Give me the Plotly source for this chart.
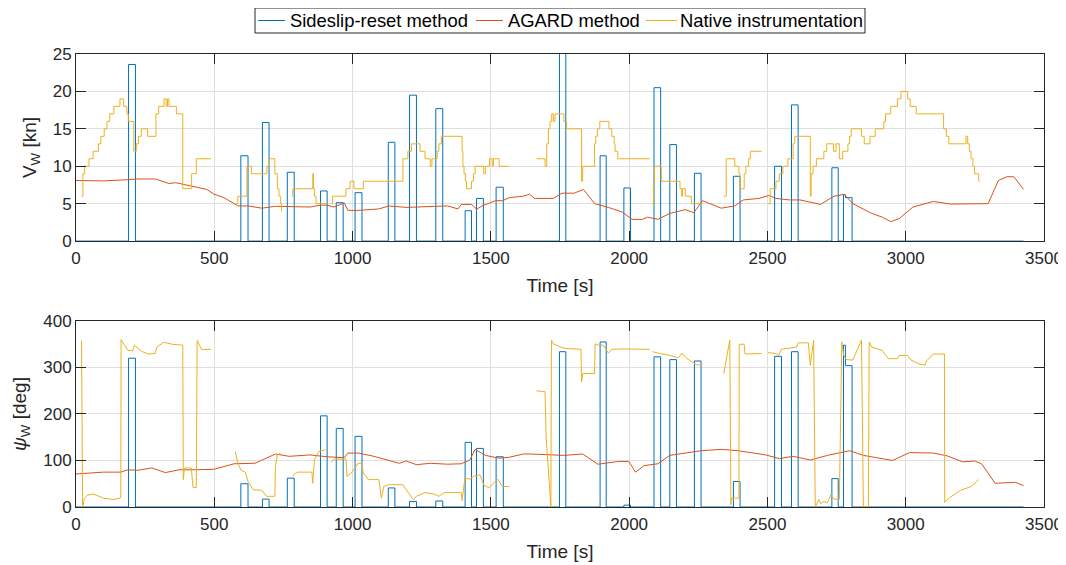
import plotly.graph_objects as go

# ---------------- data ----------------
# Sideslip-reset method: discrete estimates (start time, end time, speed [kn], direction [deg])
bar_start = [190, 596, 674, 764, 884, 941, 1009, 1129, 1206, 1301, 1407, 1448, 1519,
             1748, 1895, 1981, 2090, 2147, 2236, 2377, 2526, 2587, 2733, 2775, 2782]
bar_end = [215, 622, 698, 789, 908, 966, 1034, 1153, 1231, 1326, 1430, 1473, 1545,
           1771, 1917, 2005, 2114, 2171, 2260, 2401, 2551, 2611, 2756, 2782, 2806]
bar_speed = [23.6, 11.4, 15.85, 9.2, 6.7, 5.13, 6.47, 13.2, 19.5, 17.7, 4.06, 5.7, 7.2,
             27.0, 11.4, 7.1, 20.5, 12.9, 9.06, 8.66, 10.0, 18.2, 9.8, 6.2, 5.8]
bar_dir = [320, 50, 17, 62, 196, 169, 152, 41, 12, 13, 139, 126, 108,
           334, 355, 4, 323, 317, 314, 55, 324, 334, 61, 348, 304]
sideslip_t_end = 3426

# AGARD method: wind speed
agard_t_speed = [0, 100, 187, 224, 286, 336, 361, 398, 435, 473, 498, 535, 572, 585, 622, 672,
                 721, 784, 846, 883, 908, 933, 970, 983, 1020, 1095, 1132, 1194, 1281, 1343,
                 1381, 1393, 1430, 1449, 1468, 1517, 1542, 1567, 1617, 1640, 1658, 1726, 1757,
                 1801, 1835, 1875, 1925, 1974, 2011, 2048, 2067, 2104, 2147, 2203, 2234, 2265,
                 2333, 2382, 2413, 2469, 2506, 2531, 2580, 2618, 2692, 2741, 2778, 2809, 2877,
                 2915, 2946, 2976, 3026, 3100, 3162, 3249, 3298, 3335, 3366, 3391, 3426]
agard_speed = [8.1, 8.04, 8.2, 8.3, 8.3, 7.7, 7.8, 7.5, 7.3, 6.9, 6.3, 5.8, 5.0, 4.7, 4.7, 4.4,
               4.65, 4.55, 4.55, 4.8, 4.8, 4.55, 5.1, 4.1, 4.1, 4.3, 4.7, 4.5, 4.6, 4.7,
               4.3, 4.9, 4.9, 4.25, 4.7, 5.4, 5.4, 5.8, 6.0, 6.25, 5.7, 5.7, 6.4,
               6.4, 6.9, 5.0, 4.5, 3.9, 2.9, 2.9, 3.2, 2.9, 3.7, 4.2, 3.8, 5.4,
               4.4, 4.7, 5.5, 5.7, 6.1, 5.7, 5.5, 5.5, 4.9, 6.0, 6.25, 5.0, 3.7,
               3.2, 2.6, 3.0, 4.55, 5.3, 4.95, 4.95, 5.0, 8.1, 8.6, 8.6, 6.9]

# AGARD method: wind direction
agard_t_dir = [0, 100, 162, 187, 224, 274, 323, 373, 423, 498, 572, 647, 721, 771, 846, 908,
               970, 983, 1020, 1070, 1132, 1169, 1194, 1231, 1281, 1343, 1393, 1424, 1443,
               1480, 1530, 1567, 1617, 1640, 1764, 1832, 1887, 1962, 1999, 2023, 2054, 2104,
               2147, 2197, 2259, 2333, 2395, 2494, 2543, 2593, 2655, 2717, 2797, 2847, 2952,
               3014, 3100, 3150, 3206, 3249, 3274, 3298, 3323, 3397, 3426]
agard_dir = [71, 75, 75, 80, 79, 84, 74, 80, 80, 81, 93, 94, 114, 109, 112, 108,
             106, 116, 116, 110, 100, 94, 99, 91, 94, 92, 93, 101, 124,
             111, 105, 107, 114, 114, 111, 114, 92, 98, 98, 75, 89, 93,
             111, 116, 121, 124, 121, 112, 104, 109, 101, 111, 121, 111, 100,
             117, 116, 110, 97, 99, 93, 73, 51, 53, 46]

# Native instrumentation: wind speed (step samples, None = no data)
native_t_speed = [
    20, 25, 31, 47, 62, 81, 90, 102, 112, 122, 137, 159, 172, 184, 189, 209, 218, 226, 236,
    259, 289, 299, 318, 326, 331, 336, 363, 386, 418, 435, 488, None,
    576, 585, 618, 634, 690, 699, 719, 728, 734, 740, 743, 745, None,
    781, 784, 856, 859, 862, 868, 908, None,
    924, 927, 976, 991, 1005, 1039, 1182, 1200, 1213, 1244, 1262, 1281, 1287, 1306, 1312,
    1321, 1396, 1399, 1403, 1408, 1412, 1430, 1437, 1443, 1474, 1480, 1495, 1505, 1509,
    1530, 1567, None,
    1665, 1696, 1702, 1708, 1714, 1720, 1726, 1732, 1764, 1774, 1828, 1832, 1875, 1879,
    1885, 1894, 1927, 1937, 1946, 1949, 1959, 2075, None,
    2083, 2088, 2092, 2116, 2184, 2190, 2193, 2203, 2225, 2265, None,
    2342, 2351, 2382, 2397, 2401, 2416, 2422, 2432, 2438, 2479, None,
    2502, 2510, 2531, 2543, 2556, 2574, 2593, 2599, 2655, 2658, 2665, 2677, 2704, 2714,
    2739, 2748, 2760, 2772, 2791, 2797, 2803, 2840, 2850, 2871, 2890, 2921, 2927, 2946,
    2970, 2983, 3007, 3016, 3038, 3137, 3147, 3156, 3218, 3224, 3230, 3236, 3243, 3249,
    3264, 3267]
native_speed = [
    6, 9, 10, 11, 12, 13, 14, 15, 16, 17, 18, 19, 18, 17, 16, 12, 13, 14, 15,
    14, 17, 18, 19, 18, 19, 18, 17, 7, 9, 11, 11, None,
    5, 6, 10, 9, 10, 11, 9, 7, 6, 5, 4, 4, None,
    6, 7, 9, 7, 6, 5, 5, None,
    5, 6, 7, 8, 7, 8, 11, 12, 13, 12, 11, 10, 11, 12, 13,
    14, 12, 10, 9, 8, 7, 8, 9, 10, 9, 10, 11, 10, 11,
    10, 10, None,
    11, 10, 13, 15, 16, 17, 16, 17, 16, 15, 8, 10, 13, 14,
    15, 16, 15, 14, 13, 12, 11, 11, None,
    5, 8, 10, 8, 7, 6, 7, 6, 5, 5, None,
    6, 11, 10, 9, 7, 9, 10, 11, 12, 12, None,
    5, 7, 8, 9, 10, 11, 13, 14, 6, 9, 10, 11, 12, 13,
    12, 13, 11, 12, 13, 14, 15, 14, 13, 14, 15, 16, 17, 18,
    19, 20, 19, 18, 17, 15, 14, 13, 14, 13, 12, 11, 10, 9,
    8, 8]

# Native instrumentation: wind direction (None = no data)
native_t_dir = [
    20, 24, 30, 40, 62, 100, 137, 155, 162, 163, 187, 205, 211, 236, 261, 286, 292, 317,
    348, 386, 388, 392, 417, 423, 435, 438, 448, 454, 488, None,
    576, 585, 597, 612, 622, 641, 672, 688, 719, 721, 728, 740, None,
    784, 790, 802, 853, 856, 862, 877, 902, None,
    923, 933, 976, 980, 995, 1020, 1032, 1039, 1057, 1095, 1104, 1113, 1132, 1182, 1194,
    1219, 1231, 1262, 1293, 1312, 1331, 1393, 1396, 1406, 1424, 1437, 1461, 1474, 1493,
    1524, 1542, 1567, None,
    1665, 1689, 1696, 1700, 1715, 1717, 1719, 1726, 1751, 1770, 1826, 1828, 1832, 1875,
    1877, 1887, 1906, 1925, 1937, 1974, 2075, None,
    2085, 2110, 2147, 2178, 2191, 2209, 2228, 2246, 2265, None,
    2342, 2364, 2368, 2370, 2382, 2397, 2398, 2416, 2419, 2444, 2479, None,
    2502, 2531, 2541, 2550, 2605, 2611, 2648, 2655, 2667, 2673, 2686, 2692, 2704, 2717,
    2729, 2741, 2760, 2769, 2776, 2785, 2809, 2834, 2840, 2847, 2865, 2868, 2877, 2915,
    2927, 2939, 2970, 2976, 3007, 3019, 3051, 3069, 3075, 3100, 3140, 3141, 3156, 3199,
    3236, 3264]
native_dir = [
    358, 0, 18, 25, 28, 19, 16, 20, 20, 360, 337, 336, 348, 335, 329, 330, 344, 354,
    350, 348, 59, 84, 84, 42, 42, 358, 344, 339, 339, None,
    119, 94, 79, 75, 55, 37, 36, 23, 23, 87, 112, 116, None,
    66, 71, 75, 75, 51, 101, 119, 123, None,
    96, 103, 103, 66, 73, 94, 94, 73, 59, 59, 19, 44, 48, 48, 37,
    16, 23, 31, 28, 23, 31, 31, 14, 62, 60, 66, 69, 48, 41,
    60, 44, 44, None,
    250, 248, 248, 150, 5, 0, 359, 351, 344, 341, 339, 269, 287, 287,
    351, 348, 348, 331, 339, 340, 339, None,
    334, 330, 326, 321, 331, 319, 312, 305, 307, None,
    287, 359, 5, 19, 19, 19, 350, 350, 329, 329, 330, None,
    332, 330, 326, 339, 344, 353, 353, 305, 359, 0, 16, 7, 12, 9,
    26, 17, 16, 355, 326, 317, 316, 351, 359, 0, 1, 355, 344, 337,
    326, 319, 319, 326, 326, 316, 307, 305, 314, 329, 329, 10, 19, 36,
    44, 59]

# tick labels / legend labels
x_ticks = [0, 500, 1000, 1500, 2000, 2500, 3000, 3500]
speed_ticks = [0, 5, 10, 15, 20, 25]
dir_ticks = [0, 100, 200, 300, 400]
series_names = ["Sideslip-reset method", "AGARD method", "Native instrumentation"]

# ---------------- build ----------------
def bar_path(starts, ends, vals, t_end):
    xs, ys = [0], [0]
    n = len(starts)
    for i in range(n):
        s, e, v = starts[i], ends[i], vals[i]
        joined_prev = i > 0 and abs(starts[i] - ends[i - 1]) < 1
        if not joined_prev:
            xs += [s, s]
            ys += [0, v]
        else:
            xs += [s]
            ys += [v]
        xs += [e]
        ys += [v]
        joined_next = i < n - 1 and abs(starts[i + 1] - e) < 1
        if not joined_next:
            xs += [e]
            ys += [0]
    xs.append(t_end)
    ys.append(0)
    return xs, ys

BLUE = "#0072BD"
RED = "#D95319"
YELLOW = "#EDB120"
COLORS = [BLUE, RED, YELLOW]
FONT = "Liberation Sans, Arial, Helvetica, sans-serif"
AX = "#262626"

W, H = 1058, 557
ML, MR, MT, MB = 68, 22, 46, 58
PW, PH = W - ML - MR, H - MT - MB


def px_x(px):  # figure pixel -> paper x
    return (px - ML) / PW


def px_y(py):  # figure pixel (from top) -> paper y
    return 1 - (py - MT) / PH


fig = go.Figure()

bx, by = bar_path(bar_start, bar_end, bar_speed, sideslip_t_end)
fig.add_trace(go.Scatter(x=bx, y=by, mode="lines", name=series_names[0], showlegend=False,
                         line=dict(color=BLUE, width=1), xaxis="x", yaxis="y"))
fig.add_trace(go.Scatter(x=agard_t_speed, y=agard_speed, mode="lines", name=series_names[1],
                         showlegend=False, line=dict(color=RED, width=1), xaxis="x", yaxis="y"))
fig.add_trace(go.Scatter(x=native_t_speed, y=native_speed, mode="lines",
                         name=series_names[2], line_shape="hv", showlegend=False,
                         line=dict(color=YELLOW, width=1), connectgaps=False,
                         xaxis="x", yaxis="y"))

dx, dy = bar_path(bar_start, bar_end, bar_dir, sideslip_t_end)
fig.add_trace(go.Scatter(x=dx, y=dy, mode="lines", name=series_names[0], showlegend=False,
                         line=dict(color=BLUE, width=1), xaxis="x2", yaxis="y2"))
fig.add_trace(go.Scatter(x=agard_t_dir, y=agard_dir, mode="lines", name=series_names[1],
                         showlegend=False, line=dict(color=RED, width=1),
                         xaxis="x2", yaxis="y2"))
fig.add_trace(go.Scatter(x=native_t_dir, y=native_dir, mode="lines", name=series_names[2],
                         showlegend=False, line=dict(color=YELLOW, width=1),
                         connectgaps=False, xaxis="x2", yaxis="y2"))

# ---- legend box (MATLAB-style, horizontal, boxed) ----
leg_box = (247, 0, 857, 25)          # figure pixels: left, top, right, bottom
leg_line_x = [(250, 277), (468, 495), (638, 669)]
leg_text_x = [280, 498, 670]
leg_cy = 12.5
shapes = [dict(type="rect", xref="paper", yref="paper",
               x0=px_x(leg_box[0]), x1=px_x(leg_box[2]),
               y0=px_y(leg_box[3]), y1=px_y(leg_box[1]),
               line=dict(color=AX, width=1), fillcolor="white", layer="above")]
annotations = []
for (lx0, lx1), tx, name, col in zip(leg_line_x, leg_text_x, series_names, COLORS):
    shapes.append(dict(type="line", xref="paper", yref="paper",
                       x0=px_x(lx0), x1=px_x(lx1), y0=px_y(leg_cy), y1=px_y(leg_cy),
                       line=dict(color=col, width=1), layer="above"))
    annotations.append(dict(text=name, xref="paper", yref="paper", x=px_x(tx),
                            y=px_y(leg_cy), xanchor="left", yanchor="middle",
                            showarrow=False,
                            font=dict(family=FONT, size=18.4, color="#000000")))

axis_common = dict(showline=True, linecolor=AX, linewidth=1, mirror="ticks",
                   ticks="inside", ticklen=10, tickwidth=1, tickcolor=AX,
                   showgrid=True, gridcolor="#dfdfdf", gridwidth=1, zeroline=False,
                   automargin=False,
                   tickfont=dict(family=FONT, size=17, color=AX))

fig.update_layout(
    width=W, height=H,
    margin=dict(l=ML, r=MR, t=MT, b=MB, autoexpand=False),
    paper_bgcolor="white", plot_bgcolor="white",
    font=dict(family=FONT, color=AX),
    xaxis=dict(domain=[0, 1], anchor="y", range=[0, 3500], tickvals=x_ticks,
               ticklabelstandoff=2,
               title=dict(text="Time [s]", font=dict(size=19), standoff=11), **axis_common),
    yaxis=dict(domain=[0.587, 1], anchor="x", range=[0, 25], tickvals=speed_ticks,
               title=dict(text="V<sub>W</sub> [kn]", font=dict(size=19), standoff=11),
               **axis_common),
    xaxis2=dict(domain=[0, 1], anchor="y2", range=[0, 3500], tickvals=x_ticks,
                ticklabelstandoff=2,
                title=dict(text="Time [s]", font=dict(size=19), standoff=11), **axis_common),
    yaxis2=dict(domain=[0, 0.4106], anchor="x2", range=[0, 400], tickvals=dir_ticks,
                title=dict(text="<i>ψ</i><sub>W</sub> [deg]", font=dict(size=19), standoff=11),
                **axis_common),
    shapes=shapes,
    annotations=annotations,
    showlegend=False,
)

fig.write_html("out.html")
